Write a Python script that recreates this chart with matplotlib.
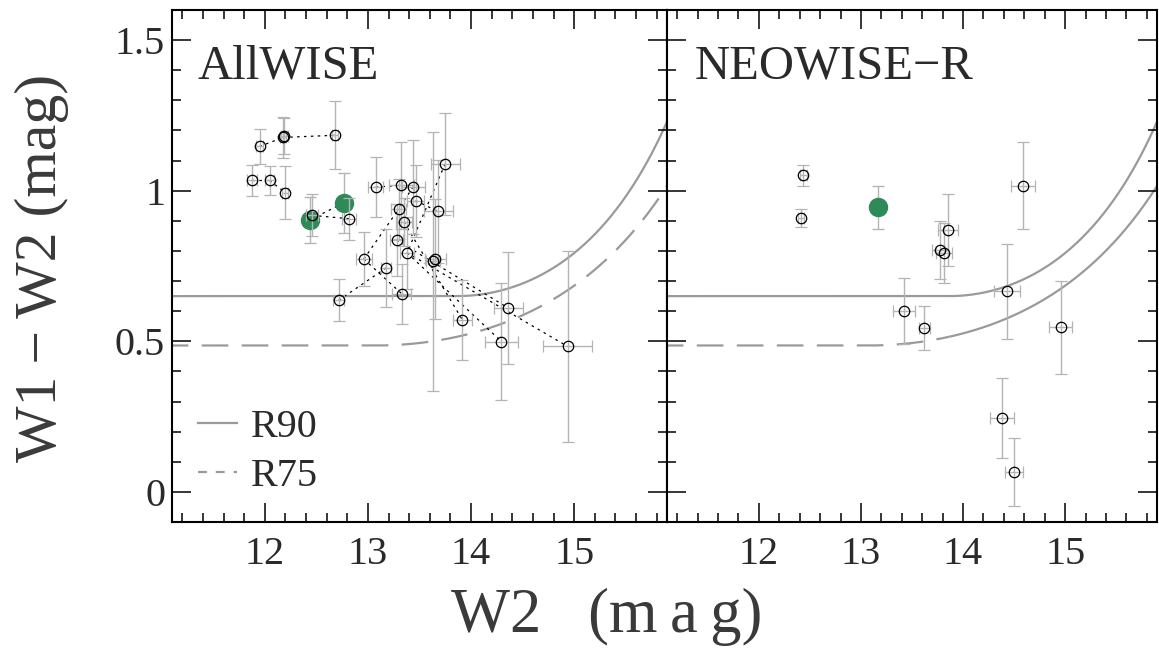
import numpy as np
import matplotlib.pyplot as plt
from matplotlib.lines import Line2D
from matplotlib.ticker import MultipleLocator, FuncFormatter

plt.rcParams['font.family'] = ['Liberation Serif', 'DejaVu Serif']

# AllWISE, open circles
w2_all = [11.874, 12.046, 11.949, 12.180, 12.190, 12.683, 12.198, 12.460, 12.819,
          13.075, 13.322, 13.439, 13.748, 13.463, 13.298, 13.349, 13.680, 13.277,
          13.379, 12.960, 13.177, 13.631, 13.655, 12.716, 13.327, 13.916, 14.363,
          14.295, 14.936]
col_all = [1.034, 1.034, 1.147, 1.177, 1.183, 1.184, 0.994, 0.918, 0.907,
           1.012, 1.018, 1.013, 1.089, 0.967, 0.939, 0.896, 0.931, 0.836,
           0.794, 0.773, 0.744, 0.766, 0.774, 0.636, 0.658, 0.571, 0.610,
           0.499, 0.483]
w2err_all = [0.05, 0.04, 0.03, 0.03, 0.03, 0.03, 0.03, 0.06, 0.07,
             0.075, 0.12, 0.11, 0.14, 0.08, 0.07, 0.08, 0.14, 0.065,
             0.07, 0.075, 0.05, 0.07, 0.10, 0.055, 0.09, 0.094, 0.14,
             0.16, 0.24]
colerr_all = [0.05, 0.047, 0.058, 0.067, 0.06, 0.113, 0.087, 0.07, 0.07,
              0.10, 0.145, 0.157, 0.17, 0.12, 0.10, 0.08, 0.17, 0.12,
              0.12, 0.09, 0.13, 0.43, 0.20, 0.07, 0.10, 0.133, 0.186,
              0.194, 0.318]
# pairs of AllWISE points joined by dotted lines
links_all = [(0, 1), (1, 6), (2, 3), (3, 5), (7, 8), (9, 10), (11, 14), (13, 16),
             (12, 18), (23, 20), (19, 14), (19, 24), (15, 25), (18, 27), (17, 26),
             (18, 28)]

# AllWISE, target (green)
w2_all_t = [12.441, 12.764]
col_all_t = [0.904, 0.959]
w2err_all_t = [0.05, 0.06]
colerr_all_t = [0.076, 0.10]

# NEOWISE-R, open circles
w2_neo = [12.437, 12.415, 13.854, 13.777, 13.816, 14.586, 13.421, 13.621,
          14.430, 14.955, 14.384, 14.499]
col_neo = [1.051, 0.909, 0.870, 0.804, 0.793, 1.017, 0.600, 0.544,
           0.666, 0.546, 0.245, 0.065]
w2err_neo = [0.03, 0.03, 0.10, 0.08, 0.08, 0.12, 0.11, 0.053,
             0.13, 0.11, 0.12, 0.09]
colerr_neo = [0.036, 0.03, 0.12, 0.096, 0.10, 0.145, 0.11, 0.072,
              0.158, 0.154, 0.133, 0.113]

# NEOWISE-R, target (green)
w2_neo_t = [13.165]
col_neo_t = [0.945]
colerr_neo_t = [0.072]

# R90 / R75 selection criteria (alpha, beta, gamma)
r90 = [0.65, 0.153, 13.86]
r75 = [0.486, 0.092, 13.07]
r75_split = 13.87  # dashed->solid switch in the NEOWISE-R panel

GRAY = '#9a9a9a'
ERR = '#b4b4b4'
GREEN = '#2e8b57'
TXT = '#2a2a2a'


def criterion(x, p):
    a, b, g = p
    return a * np.where(x > g, np.exp(b * (x - g) ** 2), 1.0)


fig = plt.figure(figsize=(11.59, 6.56), dpi=100)
ax1 = fig.add_axes([172 / 1159, 134 / 656, 495 / 1159, 512 / 656])
ax2 = fig.add_axes([667 / 1159, 134 / 656, 490 / 1159, 512 / 656])

xx = np.linspace(11.0, 16.0, 500)

# left panel
ax1.plot(xx, criterion(xx, r90), color=GRAY, lw=1.6, zorder=1)
ax1.plot(xx, criterion(xx, r75), color=GRAY, lw=1.6, dashes=(12, 6), zorder=1)
for i, j in links_all:
    ax1.plot([w2_all[i], w2_all[j]], [col_all[i], col_all[j]], color='k',
             lw=0.9, ls=(0, (2, 3.5)), zorder=2)
ax1.plot(w2_all_t, col_all_t, color='k', lw=0.9, ls=(0, (2, 3.5)), zorder=2)
ax1.errorbar(w2_all_t, col_all_t, xerr=w2err_all_t, yerr=colerr_all_t, fmt='o',
             color=GREEN, ms=13, ecolor=ERR, elinewidth=1.0, capsize=4, zorder=3)
ax1.errorbar(w2_all, col_all, xerr=w2err_all, yerr=colerr_all, fmt='o', mfc='none',
             mec='k', mew=0.9, ms=7.5, ecolor=ERR, elinewidth=1.0, capsize=4, zorder=4)

# right panel
ax2.plot(xx, criterion(xx, r90), color=GRAY, lw=1.6, zorder=1)
xa = xx[xx < r75_split]
xb = xx[xx >= r75_split]
ax2.plot(xa, criterion(xa, r75), color=GRAY, lw=1.6, dashes=(12, 6), zorder=1)
ax2.plot(xb, criterion(xb, r75), color=GRAY, lw=1.6, zorder=1)
ax2.errorbar(w2_neo_t, col_neo_t, yerr=colerr_neo_t, fmt='o', color=GREEN, ms=13,
             ecolor=ERR, elinewidth=1.0, capsize=4, zorder=3)
ax2.errorbar(w2_neo, col_neo, xerr=w2err_neo, yerr=colerr_neo, fmt='o', mfc='none',
             mec='k', mew=0.9, ms=7.5, ecolor=ERR, elinewidth=1.0, capsize=4, zorder=4)

for ax in (ax1, ax2):
    ax.set_xlim(11.1, 15.9)
    ax.set_ylim(-0.1, 1.6)
    ax.xaxis.set_major_locator(MultipleLocator(1))
    ax.xaxis.set_minor_locator(MultipleLocator(0.2))
    ax.yaxis.set_major_locator(MultipleLocator(0.5))
    ax.yaxis.set_minor_locator(MultipleLocator(0.1))
    ax.yaxis.set_major_formatter(FuncFormatter(lambda v, p: '%g' % v))
    ax.tick_params(which='both', direction='in', top=True, right=True, width=1.1,
                   labelsize=29, labelcolor=TXT)
    ax.tick_params(which='major', length=14)
    ax.tick_params(which='minor', length=6.5)
    ax.tick_params(axis='x', pad=10)
    ax.tick_params(axis='y', pad=5)
    for s in ax.spines.values():
        s.set_linewidth(1.5)
ax2.tick_params(labelleft=False)

ax1.text(0.0525, 0.867, 'AllWISE', transform=ax1.transAxes, fontsize=35,
         va='baseline', color=TXT)
ax2.text(0.057, 0.867, 'NEOWISE\u2212R', transform=ax2.transAxes, fontsize=35,
         va='baseline', color=TXT)

handles = [Line2D([], [], color=GRAY, lw=1.6),
           Line2D([], [], color=GRAY, lw=1.6, dashes=(4, 4))]
leg = ax1.legend(handles, ['R90', 'R75'], loc='lower left',
                 bbox_to_anchor=(0.0525, 0.052), frameon=False, fontsize=29,
                 handlelength=0.98, handletextpad=0.33, labelspacing=0.3,
                 borderpad=0, borderaxespad=0)
for t in leg.get_texts():
    t.set_color(TXT)

fig.text(42 / 1159, 1 - 268 / 656, 'W1\u2009\u2212\u2009W2 (mag)', rotation=90,
         fontsize=43, ha='center', va='center', color='#3a3a3a')
fig.text(607 / 1159, 1 - 617 / 656, 'W2\u2002 (m\u2009a\u2009g)', fontsize=45,
         ha='center', va='center', color='#3a3a3a')

fig.savefig('out.png', dpi=100)
